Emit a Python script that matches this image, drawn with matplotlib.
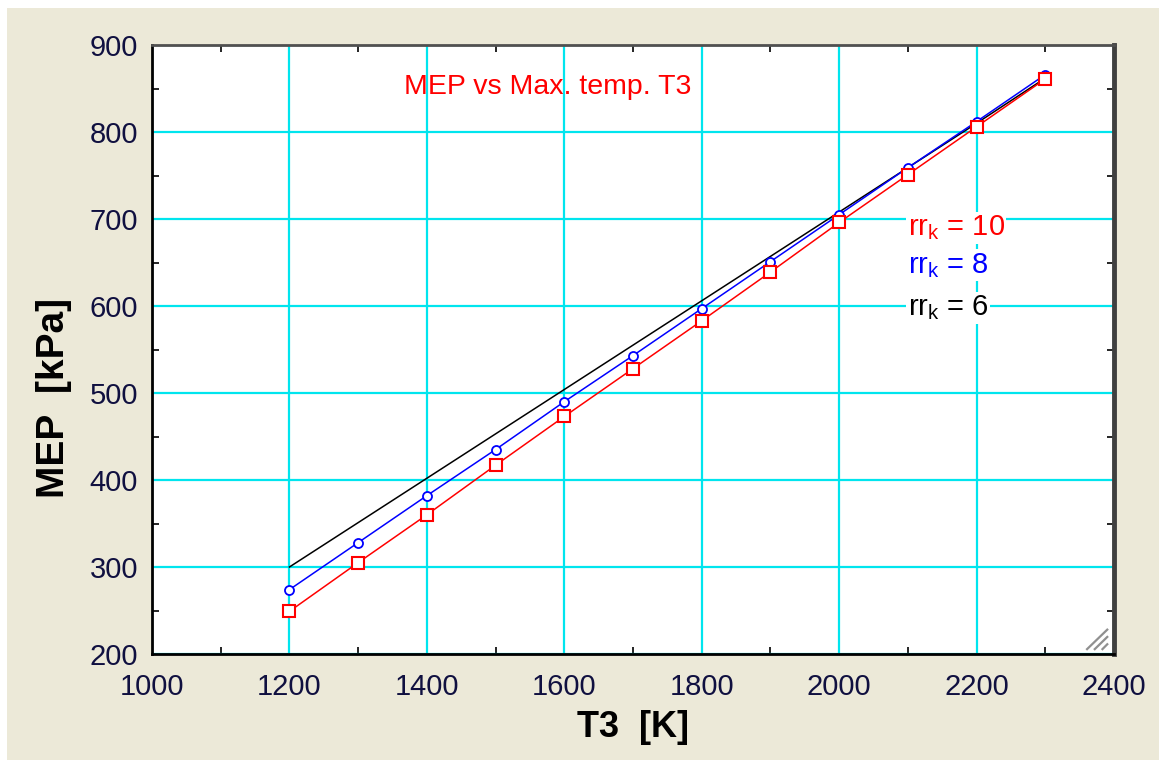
import matplotlib
matplotlib.use("Agg")
import matplotlib.pyplot as plt
from matplotlib.patches import Rectangle
from matplotlib.ticker import MultipleLocator

plt.rcParams['font.family'] = ['Liberation Sans', 'DejaVu Sans']

# Maximum cycle temperature T3 [K]
t3 = [1200, 1300, 1400, 1500, 1600, 1700, 1800, 1900, 2000, 2100, 2200, 2300]

# Mean effective pressure [kPa] for three compression ratios
mep_rr10 = [249, 305, 360, 417, 473, 528, 583, 639, 696, 751, 806, 861]
mep_rr8 = [274, 328, 382, 435, 490, 543, 597, 651, 705, 759, 812, 866]
mep_rr6 = [300, 351, 402, 453, 504, 555, 606, 657, 708, 759, 810, 862]

W, H = 1159, 760
fig = plt.figure(figsize=(W / 100, H / 100), dpi=100, facecolor='white')

# window background
fig.patches.append(Rectangle((7 / W, 0), 1, 1 - 8 / H, transform=fig.transFigure,
                             facecolor='#ECE9D8', edgecolor='none', zorder=-10))

ax = fig.add_axes([152 / W, 1 - 654 / H, (1114 - 152) / W, (654 - 45) / H])
ax.set_facecolor('white')

ax.set_xlim(1000, 2400)
ax.set_ylim(200, 900)
ax.xaxis.set_major_locator(MultipleLocator(200))
ax.xaxis.set_minor_locator(MultipleLocator(100))
ax.yaxis.set_major_locator(MultipleLocator(100))
ax.yaxis.set_minor_locator(MultipleLocator(50))

ax.grid(True, which='major', color='#00E5EE', linewidth=1.6, zorder=0)
ax.set_axisbelow(True)

ax.tick_params(which='both', direction='in', top=True, right=True,
               labelsize=21, colors='black')
ax.tick_params(axis='x', which='major', pad=14)
ax.tick_params(axis='y', which='major', pad=10)
ax.tick_params(which='major', length=0)
ax.tick_params(which='minor', length=5, width=1.2)
for lab in ax.get_xticklabels() + ax.get_yticklabels():
    lab.set_color('#101040')

for side in ('left', 'bottom'):
    ax.spines[side].set_color('black')
    ax.spines[side].set_linewidth(2)
ax.spines['top'].set_color('#505050')
ax.spines['top'].set_linewidth(2)
ax.spines['right'].set_color('#404040')
ax.spines['right'].set_linewidth(3.5)

ax.plot(t3, mep_rr6, color='black', linewidth=1.1, zorder=3)
ax.plot(t3, mep_rr8, color='blue', linewidth=1.1, marker='o', markersize=6.5,
        markerfacecolor='white', markeredgecolor='blue', markeredgewidth=1.3, zorder=4)
ax.plot(t3, mep_rr10, color='red', linewidth=1.1, marker='s', markersize=9,
        markerfacecolor='white', markeredgecolor='red', markeredgewidth=1.5, zorder=5)

ax.set_xlabel('T3  [K]', fontsize=26, fontweight='bold', labelpad=6)
ax.set_ylabel('MEP  [kPa]', fontsize=28, fontweight='bold')
ax.yaxis.set_label_coords(-0.083, 0.42)

ax.text(1576, 852, 'MEP vs Max. temp. T3', color='red', fontsize=20.5,
        ha='center', va='center', zorder=6)

legend_items = [('10', 'red', 690), ('8', 'blue', 647), ('6', 'black', 598)]
for val, col, yv in legend_items:
    ax.text(2100, yv, r'rr$_\mathregular{k}$ = ' + val, color=col, fontsize=21,
            ha='left', va='center', zorder=6,
            bbox=dict(facecolor='white', edgecolor='none', pad=1))

# resize grip in the lower-right corner
for k in range(3):
    off = 0.008 * k
    ax.plot([0.972 + off, 0.993], [0.008, 0.040 - off * 1.5], transform=ax.transAxes,
            color='#909090', linewidth=1.6, clip_on=False, zorder=7)

fig.savefig('out.png', dpi=100, facecolor=fig.get_facecolor())
